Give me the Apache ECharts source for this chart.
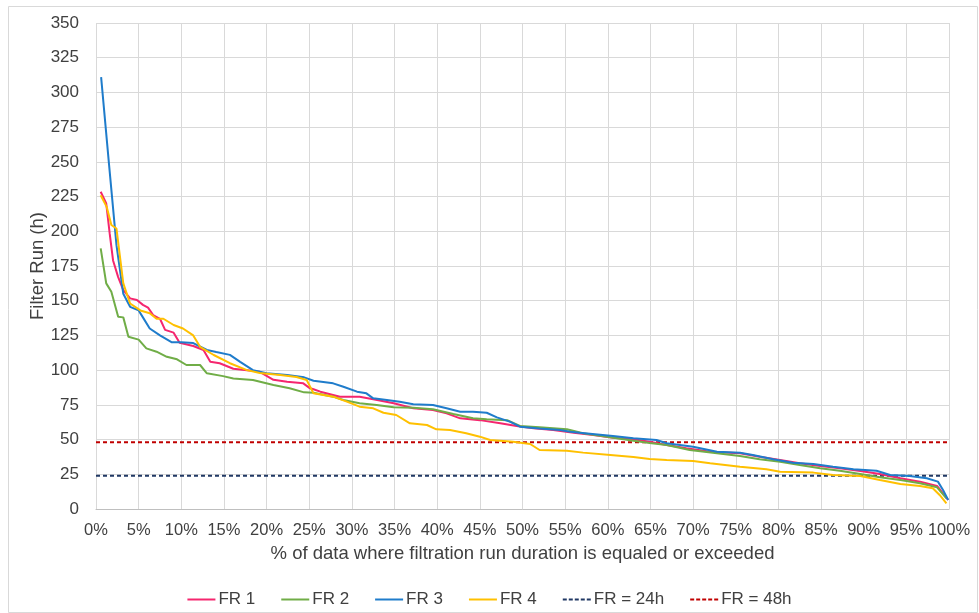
<!DOCTYPE html>
<html>
<head>
<meta charset="utf-8">
<script src="https://cdn.jsdelivr.net/npm/echarts@6/dist/echarts.min.js"></script>
<style>html,body{margin:0;padding:0;background:#fff}#c{width:979px;height:613px}</style>
</head>
<body>
<div id="c"></div>
<script>
// x = % of data where duration is equaled or exceeded, y = filter run (h)
var fr1 = [[0.55,228.5],[1.2,220],[1.6,198.6],[2.0,179],[2.6,167],[3.2,157.7],[4.0,151.7],[4.8,150.5],[5.5,147],[6.1,145],[6.7,139.7],[7.5,137],[8.1,129],[9.1,127],[9.8,119.7],[11.4,117.4],[12.6,114.5],[13.4,106],[14.5,105],[16.1,101],[17.7,100],[19.2,98.8],[20.8,93],[22.4,91.6],[24.3,90.5],[25.1,86.9],[25.5,86.2],[26.3,84.5],[28.6,80.9],[30.9,80.9],[32.5,79],[34.9,76.1],[37.2,72.5],[39.5,71.3],[41.1,68.9],[42.7,65.3],[45,64],[47.4,61.7],[49.3,59.8],[51.3,58.1],[53.6,56.9],[56,54.9],[58.3,53.3],[60.6,51.3],[63,50.3],[64.9,48.5],[66.9,46.1],[69.2,43.7],[72,41.3],[75.5,40.1],[77.8,37.7],[80.2,35.3],[82.5,32.9],[84.9,31],[87.2,29.3],[89.6,27.4],[91.9,25.2],[94.3,22.1],[96.6,19.7],[98.6,16.6],[99.3,11.3],[99.9,6.5]];
var fr2 = [[0.55,187.7],[1.2,162.5],[1.8,156.5],[2.6,138.4],[3.2,138],[3.8,124],[5.0,122],[5.9,115.7],[7.1,113.3],[8.3,109.6],[9.5,107.8],[10.6,103.7],[12.2,103.7],[13.0,97.7],[14.9,95.7],[16.1,94],[18.4,92.9],[20.8,89.3],[22.7,86.9],[24.4,84],[25.5,83.7],[27.8,80.9],[29,78.5],[30.9,76.1],[32.9,74.9],[34.9,73.2],[37.2,72.9],[39.5,71.8],[41.9,68.4],[44.2,65.3],[45.8,64.6],[48.2,64],[49.7,59.8],[52,58.8],[55.2,57.4],[57.1,54.5],[59.9,52.1],[63,49.2],[64.9,47.5],[66.9,46.1],[69.6,42.5],[72.8,40.1],[75.5,38.2],[77.8,35.8],[80.2,34.1],[82.5,31.7],[84.9,29.3],[87.2,27.6],[89.6,25.2],[91.9,22.8],[94.3,20.9],[96.6,18.5],[98.6,15.6],[99.7,7.7]];
var fr3 = [[0.6,311],[1.5,250],[2.4,190],[3.2,155],[4.0,145.6],[5.0,143],[5.5,138],[6.3,130],[7.5,125],[8.9,120],[10,120],[11.4,119.5],[13,114.5],[14.1,113],[15.7,111],[16.9,106],[18.4,100],[20,97.7],[22.4,96.5],[24.4,94.8],[25.5,92.4],[27.8,90.5],[29,88],[30.6,84.5],[31.7,83.3],[32.5,79.7],[34.1,78.5],[35.6,77.3],[37.2,75.4],[39.5,74.9],[41.1,72.5],[42.7,70],[44.2,70],[45.8,69.3],[47,66],[48.5,62.9],[49.7,59.3],[52,58],[54.4,56.9],[55.6,55.7],[56.7,54.9],[59.1,53.5],[60.6,52.6],[63,50.9],[65.7,49.7],[66.9,47.3],[70,44.9],[72.8,41.3],[75.5,40.5],[77,38.9],[79.4,35.8],[81.7,33.3],[84.1,32.4],[86.4,30.5],[88.8,28.6],[91.5,27.6],[93.1,24.5],[95.4,23.8],[97.4,22.1],[98.7,19.7],[99.3,13.7],[99.9,6.5]];
var fr4 = [[0.55,226],[1.25,217.6],[1.8,204.5],[2.4,202],[3.2,162.5],[4,148],[5.2,143],[6.3,141],[7.1,137],[7.9,137],[9.1,132.5],[10.2,130],[11.4,125],[12.2,116.8],[13.8,110.9],[15.7,105],[17.7,100],[19.2,98],[21.6,96.5],[23.5,95],[24.7,92.9],[25.5,83.3],[27.8,80.9],[29.4,77.3],[30.9,73.7],[32.5,72.5],[33.7,69.3],[35.2,67.7],[36.8,61.7],[38.8,60.5],[39.9,57.4],[41.5,56.9],[43.4,54.5],[45,52.1],[46.2,49.7],[48.9,48.5],[50.9,46.8],[52,42.5],[55.2,42],[57.1,40.6],[60.3,38.9],[63,37.5],[64.9,36],[66.9,35.3],[70,34.6],[72,32.9],[75.5,30.5],[78.6,28.6],[80.2,26.9],[84.1,26.2],[86.4,24.5],[89.6,23.8],[91.9,20.9],[94.3,18],[96.6,16.6],[98.1,14.9],[98.9,10.1],[99.7,4.1]];
var fr24 = [[0,24],[100,24]];
var fr48 = [[0,48],[100,48]];
var seriesNames = ['FR 1','FR 2','FR 3','FR 4','FR = 24h','FR = 48h'];

var colors = ['#f5266e','#70ad47','#1f7ccb','#ffc000','#203864','#c00000'];
var datasets = [fr1, fr2, fr3, fr4, fr24, fr48];
var font = 'Liberation Sans, Arial, sans-serif';
var txt = '#404040';
var chart = echarts.init(document.getElementById('c'));
chart.setOption({
  animation: false,
  backgroundColor: '#fff',
  graphic: [{type:'rect', shape:{x:8.5,y:6.5,width:969,height:606}, style:{fill:'none',stroke:'#d9d9d9',lineWidth:1}, silent:true, z:-1}],
  grid: {left:96, right:30, top:23, bottom:104, containLabel:false},
  xAxis: {
    type:'value', min:0, max:100, interval:5,
    name:'% of data where filtration run duration is equaled or exceeded',
    nameLocation:'middle', nameGap:35, nameMoveOverlap:false,
    nameTextStyle:{fontFamily:font, fontSize:18.5, color:txt},
    axisLine:{show:true, lineStyle:{color:'#bfbfbf'}},
    axisTick:{show:false},
    axisLabel:{formatter:'{value}%', fontFamily:font, fontSize:16.5, color:txt, margin:13},
    splitLine:{show:true, lineStyle:{color:'#d9d9d9'}}
  },
  yAxis: {
    type:'value', min:0, max:350, interval:25,
    name:'Filter Run (h)', nameLocation:'middle', nameGap:49, nameMoveOverlap:false,
    nameTextStyle:{fontFamily:font, fontSize:18.5, color:txt},
    axisLine:{show:false}, axisTick:{show:false},
    axisLabel:{fontFamily:font, fontSize:17, color:txt, margin:17},
    splitLine:{show:true, lineStyle:{color:'#d9d9d9'}}
  },
  legend: {
    bottom:0, left:'center', itemWidth:28, itemHeight:10, itemGap:26,
    textStyle:{fontFamily:font, fontSize:17, color:txt, padding:[0,0,0,-2]},
    data: seriesNames.map(function(n, i){ return {name:n, icon: i < 4 ? 'path://M0,4L28,4L28,6L0,6Z' : 'path://M0,4L4,4L4,6L0,6ZM6,4L10,4L10,6L6,6ZM12,4L16,4L16,6L12,6ZM18,4L22,4L22,6L18,6ZM24,4L28,4L28,6L24,6Z'}; })
  },
  series: datasets.map(function(d, i){
    return {
      name: seriesNames[i], type:'line', data:d, showSymbol:false, symbol:'none',
      color: colors[i],
      lineStyle:{color:colors[i], width:2, type: i < 4 ? 'solid' : [4,3]},
      z: i < 4 ? 3 : 2
    };
  })
});
</script>
</body>
</html>
